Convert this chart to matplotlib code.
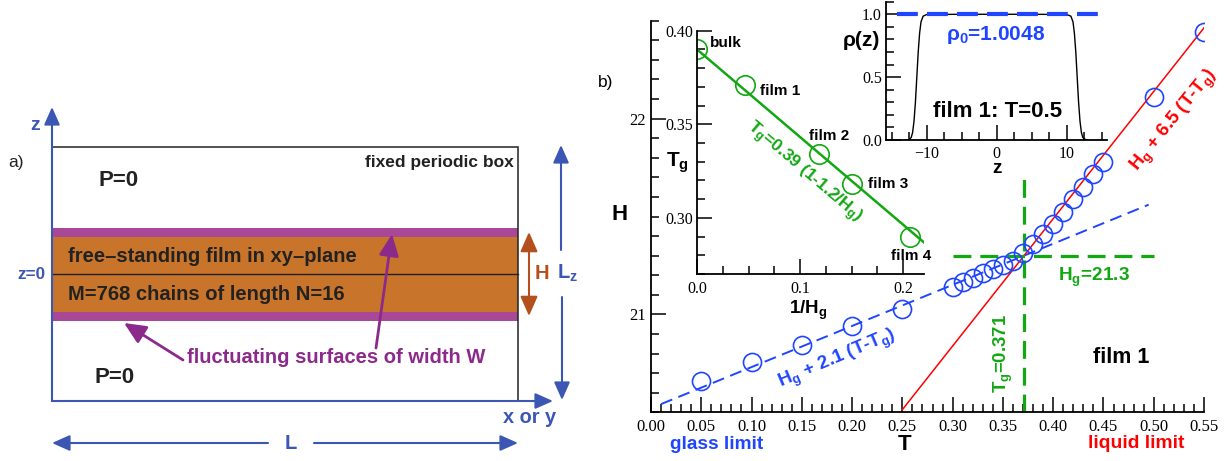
import matplotlib
matplotlib.use('Agg')
import matplotlib.pyplot as plt
from matplotlib.patches import Rectangle
from matplotlib.ticker import MultipleLocator, FormatStrFormatter

plt.rcParams['font.family'] = 'Liberation Sans'
plt.rcParams['mathtext.fontset'] = 'custom'
plt.rcParams['mathtext.rm'] = 'Liberation Sans'
plt.rcParams['mathtext.bf'] = 'Liberation Sans:bold'
plt.rcParams['mathtext.it'] = 'Liberation Sans:italic'

BLUE = '#1f45ff'
RED = '#ff0000'
GREEN = '#12a812'
SKETCH_BLUE = '#3c56b4'
ORANGE = '#c8742a'
MAGENTA = '#aa4898'
PURPLE = '#8c2a8c'
BROWN = '#b4501e'
SERIF = 'Liberation Serif'

# film 1: H(T) while cooling
T = [0.05, 0.10, 0.15, 0.20, 0.25, 0.30, 0.31, 0.32, 0.33, 0.34, 0.35, 0.36,
     0.37, 0.38, 0.39, 0.40, 0.41, 0.42, 0.43, 0.44, 0.45, 0.50, 0.55]
H = [20.66, 20.755, 20.845, 20.94, 21.03, 21.14, 21.165, 21.185, 21.21, 21.23,
     21.25, 21.275, 21.315, 21.36, 21.41, 21.46, 21.525, 21.59, 21.65, 21.715,
     21.78, 22.11, 22.44]
Hg = 21.3
Tg = 0.371
slope_glass = 2.1
slope_liquid = 6.5
T_glass_fit = [0.01, 0.495]
T_liquid_fit = [0.25, 0.55]

# glass temperature vs inverse film thickness
inv_Hg = [0.0, 0.0469, 0.118, 0.150, 0.207]
Tg_films = [0.390, 0.371, 0.334, 0.318, 0.290]
film_names = ['bulk', 'film 1', 'film 2', 'film 3', 'film 4']
Tg_bulk = 0.39
fit_coef = 1.2
inv_fit = [0.0, 0.22]

# density profile of film 1 at T=0.5
z_prof = [-13.0, -12.5, -12.2, -12.0, -11.8, -11.6, -11.4, -11.2, -11.0, -10.8,
          -10.5, -10.0, -5.0, 0.0, 5.0, 10.0, 10.6, 10.9, 11.1, 11.3, 11.5,
          11.7, 11.9, 12.1, 12.3, 12.7, 13.0]
rho_prof = [0.0, 0.003, 0.02, 0.06, 0.15, 0.30, 0.50, 0.70, 0.85, 0.94,
            0.985, 0.998, 1.0, 1.0, 1.0, 0.998, 0.985, 0.94, 0.85, 0.70, 0.50,
            0.30, 0.15, 0.06, 0.02, 0.003, 0.0]
rho0 = 1.0048
z_rho0 = [-14.3, 15.8]

W, HPX = 1231, 461
fig = plt.figure(figsize=(W / 100, HPX / 100), dpi=100)


def px_axes(left, top, right, bottom):
    return fig.add_axes([left / W, 1 - bottom / HPX, (right - left) / W, (bottom - top) / HPX])


def style_axes(ax, labelsize=11, pad_x=5, pad_y=3):
    for s in ['top', 'right']:
        ax.spines[s].set_visible(False)
    for s in ['left', 'bottom']:
        ax.spines[s].set_linewidth(1.3)
    ax.tick_params(which='both', direction='in', width=1.1, labelsize=labelsize,
                   labelfontfamily=SERIF, top=False, right=False)
    ax.tick_params(which='major', length=11)
    ax.tick_params(which='minor', length=5.5)
    ax.tick_params(axis='x', pad=pad_x)
    ax.tick_params(axis='y', pad=pad_y)
    ax.patch.set_alpha(0)


# ---------------- panel a: sketch of the simulation box ----------------
axa = fig.add_axes([0, 0, 600 / W, 1])
axa.set_xlim(0, 600)
axa.set_ylim(HPX, 0)
axa.axis('off')

box_l, box_r, box_t, box_b = 52, 518, 147, 401
film_t, film_b, z0, w_surf = 236.7, 312, 274, 9

axa.add_patch(Rectangle((box_l, film_t), box_r - box_l, film_b - film_t, fc=ORANGE, ec='none'))
axa.add_patch(Rectangle((box_l, film_t - w_surf), box_r - box_l, w_surf, fc=MAGENTA, ec='none'))
axa.add_patch(Rectangle((box_l, film_b), box_r - box_l, w_surf, fc=MAGENTA, ec='none'))
axa.plot([box_l, box_r], [z0, z0], color='#222222', lw=1)
axa.add_patch(Rectangle((box_l, box_t), box_r - box_l, box_b - box_t, fill=False, ec='#222222', lw=1.1))

head = '-|>,head_length=0.45,head_width=0.2'
arr = dict(arrowstyle=head, color=SKETCH_BLUE, lw=1.5, mutation_scale=24, shrinkA=0, shrinkB=0)
axa.annotate('', xy=(box_l, 107), xytext=(box_l, box_b), arrowprops=arr)
axa.annotate('', xy=(553, box_b), xytext=(box_l, box_b), arrowprops=arr)
axa.annotate('', xy=(561, 145), xytext=(561, 250), arrowprops=arr)
axa.annotate('', xy=(562, 400), xytext=(562, 297), arrowprops=arr)
axa.annotate('', xy=(box_l, 443), xytext=(268, 443), arrowprops=arr)
axa.annotate('', xy=(box_r, 443), xytext=(314, 443), arrowprops=arr)
axa.annotate('', xy=(529, 232), xytext=(529, 316),
             arrowprops=dict(arrowstyle='<|-|>,head_length=0.5,head_width=0.22', color=BROWN,
                             lw=1.5, mutation_scale=24, shrinkA=0, shrinkB=0))
parr = dict(arrowstyle='-|>,head_length=0.55,head_width=0.25', color=PURPLE, lw=2,
            mutation_scale=24, shrinkA=0, shrinkB=0)
axa.annotate('', xy=(392, 234), xytext=(376, 348), arrowprops=parr)
axa.annotate('', xy=(124, 323), xytext=(183, 360), arrowprops=parr)

bold = dict(fontweight='bold')
axa.text(35, 125, 'z', color=SKETCH_BLUE, fontsize=14, ha='center', va='center', **bold)
axa.text(8, 162, 'a)', color='#222222', fontsize=12.5, ha='left', va='center')
axa.text(31, 274, 'z=0', color=SKETCH_BLUE, fontsize=12.3, ha='center', va='center', **bold)
axa.text(514, 162, 'fixed periodic box', color='#222222', fontsize=12.5, ha='right', va='center', **bold)
axa.text(98, 180, 'P=0', color='#222222', fontsize=16, ha='left', va='center', **bold)
axa.text(95, 377, 'P=0', color='#222222', fontsize=16, ha='left', va='center', **bold)
axa.text(68, 256, 'free\u2013standing film in xy\u2013plane', color='#222222', fontsize=14.5,
         ha='left', va='center', **bold)
axa.text(68, 294, 'M=768 chains of length N=16', color='#222222', fontsize=14.5,
         ha='left', va='center', **bold)
axa.text(187, 357, 'fluctuating surfaces of width W', color=PURPLE, fontsize=14.5,
         ha='left', va='center', **bold)
axa.text(542, 273, 'H', color=BROWN, fontsize=14.5, ha='center', va='center', **bold)
axa.text(568, 273, 'L$_\\mathbf{z}$', color=SKETCH_BLUE, fontsize=14.5, ha='center', va='center', **bold)
axa.text(530, 417, 'x or y', color=SKETCH_BLUE, fontsize=14.4, ha='center', va='center', **bold)
axa.text(291, 443, 'L', color=SKETCH_BLUE, fontsize=14.5, ha='center', va='center', **bold)

# ---------------- panel b: H(T) of film 1 ----------------
ax = px_axes(651, 20.7, 1204, 412.3)
ax.set_xlim(0, 0.55)
ax.set_ylim(20.5, 22.5)
style_axes(ax, labelsize=12, pad_x=4.5, pad_y=3.5)
ax.xaxis.set_major_locator(MultipleLocator(0.05))
ax.xaxis.set_minor_locator(MultipleLocator(0.01))
ax.xaxis.set_major_formatter(FormatStrFormatter('%.2f'))
ax.yaxis.set_major_locator(MultipleLocator(1))
ax.yaxis.set_minor_locator(MultipleLocator(0.1))

ax.plot(T_glass_fit, [Hg + slope_glass * (t - Tg) for t in T_glass_fit], color=BLUE, lw=1.4,
        dashes=(6.2, 3.4))
ax.plot(T_liquid_fit, [Hg + slope_liquid * (t - Tg) for t in T_liquid_fit], color=RED, lw=1.1)
ax.plot([Tg, Tg], [20.5, 21.7], color=GREEN, lw=2.3, dashes=(5.6, 2.8))
ax.plot([0.30, 0.50], [Hg, Hg], color=GREEN, lw=2.3, dashes=(5.6, 2.8))
ax.plot(T, H, 'o', ms=13, mfc='none', mec=BLUE, mew=1.2)

ax.set_xlabel('T', fontsize=16, fontweight='bold')
ax.xaxis.set_label_coords(0.459, -0.082)
ax.xaxis.label.set_va('center')
ax.set_ylabel('H', fontsize=16, fontweight='bold', rotation=0)
ax.yaxis.set_label_coords(-0.056, 0.504)
ax.yaxis.label.set_va('center')

ax.text(0.4406, 21.19, 'H$_\\mathbf{g}$=21.3', color=GREEN, fontsize=13.7, ha='center', va='center', **bold)
ax.text(0.350, 20.80, 'T$_\\mathbf{g}$=0.371', color=GREEN, fontsize=13.4, rotation=90,
        ha='center', va='center', **bold)
ax.text(0.468, 20.78, 'film 1', color='black', fontsize=15.5, ha='center', va='center', **bold)
ax.text(0.186, 20.77, 'H$_\\mathbf{g}$ + 2.1 (T-T$_\\mathbf{g}$)', color=BLUE, fontsize=13.5,
        rotation=23, ha='center', va='center', rotation_mode='anchor', **bold)
ax.text(0.521, 21.99, 'H$_\\mathbf{g}$ + 6.5 (T-T$_\\mathbf{g}$)', color=RED, fontsize=13.5,
        rotation=51, ha='center', va='center', rotation_mode='anchor', **bold)
ax.text(0.065, 20.335, 'glass limit', color=BLUE, fontsize=13.7, ha='center', va='center',
        clip_on=False, **bold)
ax.text(0.483, 20.34, 'liquid limit', color=RED, fontsize=13.9, ha='center', va='center',
        clip_on=False, **bold)
fig.text(598 / W, 1 - 82 / HPX, 'b)', fontsize=12.5, ha='left', va='center')

# ---------------- inset: Tg vs 1/Hg ----------------
ax1 = px_axes(697, 30.7, 923.6, 274)
ax1.set_xlim(0, 0.22)
ax1.set_ylim(0.27, 0.40)
style_axes(ax1, labelsize=11.5, pad_x=5, pad_y=3)
ax1.xaxis.set_major_locator(MultipleLocator(0.1))
ax1.xaxis.set_minor_locator(MultipleLocator(0.025))
ax1.yaxis.set_major_locator(MultipleLocator(0.05))
ax1.yaxis.set_minor_locator(MultipleLocator(0.01))
ax1.xaxis.set_major_formatter(FormatStrFormatter('%.1f'))
ax1.yaxis.set_major_formatter(FormatStrFormatter('%.2f'))

ax1.plot(inv_fit, [Tg_bulk * (1 - fit_coef * x) for x in inv_fit], color=GREEN, lw=1.8)
ax1.plot(inv_Hg, Tg_films, 'o', ms=14, mfc='none', mec=GREEN, mew=1.2)
label_pos = [(0.0126, 0.3935, 'left'), (0.0806, 0.368, 'center'), (0.128, 0.3438, 'center'),
             (0.186, 0.318, 'center'), (0.208, 0.2798, 'center')]
for name, (x, y, ha) in zip(film_names, label_pos):
    ax1.text(x, y, name, fontsize=11, ha=ha, va='center', **bold)
ax1.text(0.104, 0.3242, 'T$_\\mathbf{g}$=0.39 (1-1.2/H$_\\mathbf{g}$)', color=GREEN, fontsize=12.5,
         rotation=-40.4, ha='center', va='center', rotation_mode='anchor', **bold)
ax1.set_xlabel('1/H$_\\mathbf{g}$', fontsize=13.5, fontweight='bold')
ax1.xaxis.set_label_coords(0.49, -0.148)
ax1.xaxis.label.set_va('center')
ax1.set_ylabel('T$_\\mathbf{g}$', fontsize=15, fontweight='bold', rotation=0)
ax1.yaxis.set_label_coords(-0.084, 0.456)
ax1.yaxis.label.set_va('center')

# ---------------- inset: density profile ----------------
ax2 = px_axes(886, 1.7, 1107.3, 140)
ax2.set_xlim(-15.8, 15.8)
ax2.set_ylim(0, 1.1)
style_axes(ax2, labelsize=11.5, pad_x=4.5, pad_y=3)
ax2.xaxis.set_major_locator(MultipleLocator(10))
ax2.xaxis.set_minor_locator(MultipleLocator(2.5))
ax2.yaxis.set_major_locator(MultipleLocator(0.5))
ax2.yaxis.set_minor_locator(MultipleLocator(0.1))
ax2.yaxis.set_major_formatter(FormatStrFormatter('%.1f'))

ax2.plot(z_prof, rho_prof, color='black', lw=1)
ax2.plot(z_rho0, [rho0, rho0], color=BLUE, lw=3, dashes=(5, 2.2))
ax2.text(-0.2, 0.835, '\u03c1$_\\mathbf{0}$=1.0048', color=BLUE, fontsize=15, ha='center', va='center', **bold)
ax2.text(0.2, 0.223, 'film 1: T=0.5', color='black', fontsize=16, ha='center', va='center', **bold)
ax2.set_xlabel('z', fontsize=13.5, fontweight='bold')
ax2.xaxis.set_label_coords(0.5, -0.205)
ax2.xaxis.label.set_va('center')
ax2.set_ylabel('\u03c1(z)', fontsize=15, fontweight='bold', rotation=0)
ax2.yaxis.set_label_coords(-0.113, 0.723)
ax2.yaxis.label.set_va('center')

fig.savefig('out.png', dpi=100)
